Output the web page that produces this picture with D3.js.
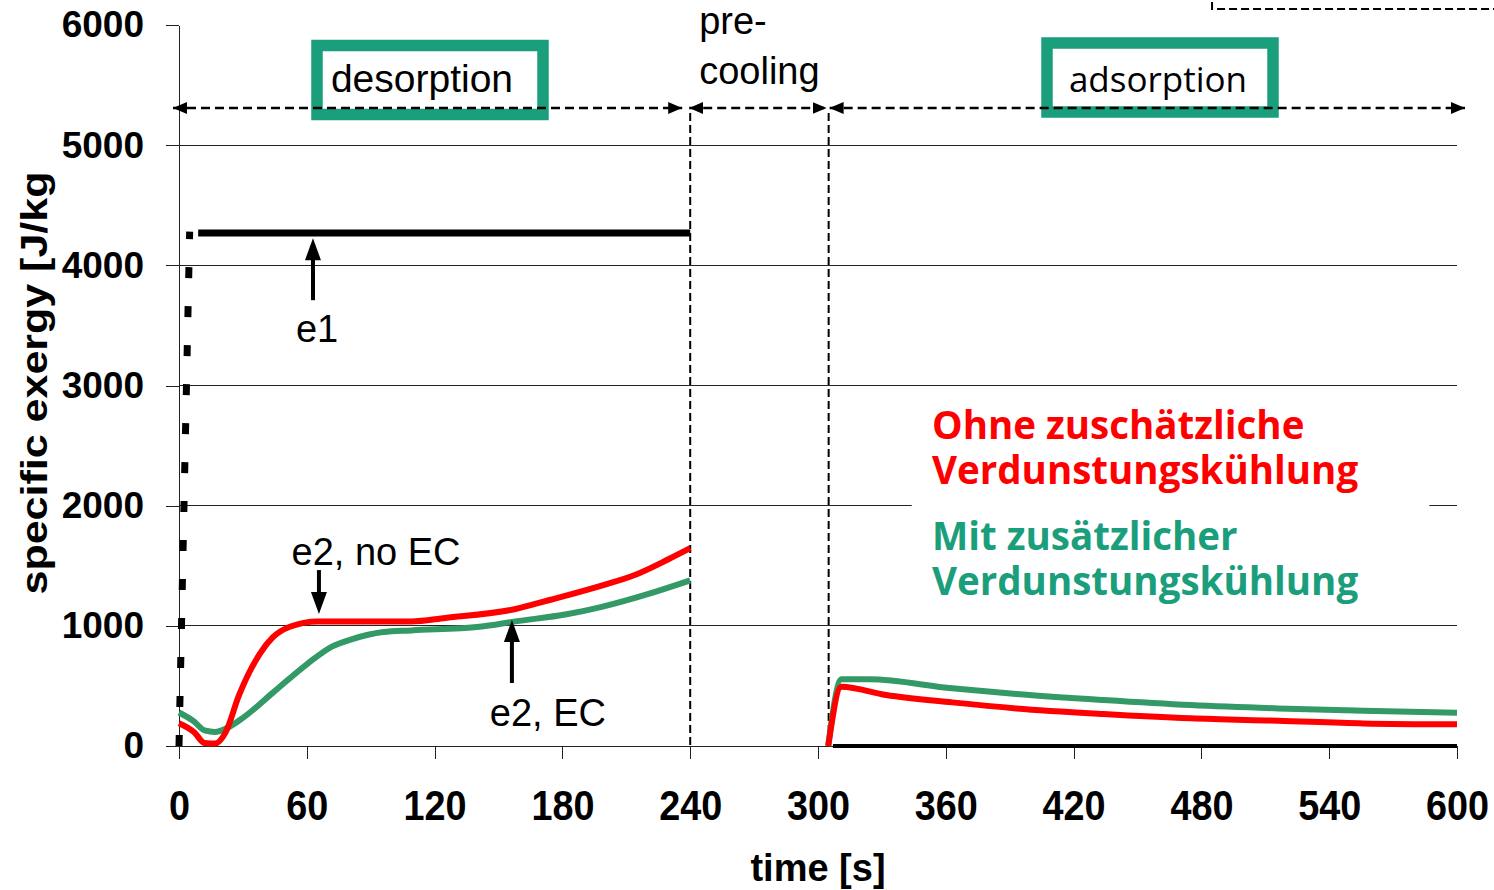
<!DOCTYPE html>
<html>
<head>
<meta charset="utf-8">
<script src="https://cdn.jsdelivr.net/npm/d3@7"></script>
<style>
  body { margin: 0; background: #fff; }
</style>
</head>
<body>
<div id="chart"></div>
<script>
// ---- data ----
const xTicks = [0, 60, 120, 180, 240, 300, 360, 420, 480, 540, 600];
const yTicks = [0, 1000, 2000, 3000, 4000, 5000, 6000];

// phase limits [s]
const phaseBounds = [0, 240, 305, 600];

// e2 without evaporative cooling (red), desorption
const tRedDes = [0, 7, 12, 17, 22, 28, 38, 44, 52, 65, 109, 125, 158, 174, 198, 214, 230, 240];
const e2NoEcDes = [190, 117, 25, 20, 117, 415, 769, 903, 992, 1037, 1037, 1066, 1140, 1215, 1333, 1423, 1556, 1646];

// e2 with evaporative cooling (green), desorption
const tGreenDes = [0, 7, 12, 17, 22, 30, 44, 60, 72, 81, 96, 109, 141, 158, 182, 198, 222, 240];
const e2EcDes = [279, 205, 130, 117, 145, 234, 442, 680, 829, 888, 948, 962, 992, 1037, 1096, 1156, 1274, 1378];

// adsorption
const tRedAds = [304.8, 311, 332, 363, 393, 434, 475, 516, 556, 600];
const e2NoEcAds = [0, 493, 424, 363, 313, 266, 230, 210, 188, 180];
const tGreenAds = [304.8, 311, 324, 363, 393, 434, 475, 516, 556, 600];
const e2EcAds = [0, 555, 555, 480, 433, 383, 341, 313, 294, 277];

// e1 (black)
const tE1Rise = [0, 5];
const e1Rise = [0, 4280];
const tE1Des = [9, 240];
const e1Des = [4270, 4270];
const tE1Ads = [307, 600];
const e1Ads = [0, 0];

// annotations: label, label position, arrow tail, arrow tip
const annLabels = ["e1", "e2, no EC", "e2, EC"];
const annLabelT = [64.8, 92.5, 173.2];
const annLabelV = [3361, 1506, 166];
const annArrowT = [62.9, 65.7, 156.3];
const annTailV = [3710, 1464, 524];
const annTipV = [4226, 1098, 1048];

const legendRed = ["Ohne zuschätzliche", "Verdunstungskühlung"];
const legendGreen = ["Mit zusätzlicher", "Verdunstungskühlung"];

// ---- drawing ----
const width = 1494, height = 890;
const red = "#ff0000", green = "#339966", teal = "#1a9e7c";

const svg = d3.select("#chart").append("svg")
  .attr("width", width).attr("height", height)
  .style("display", "block");
svg.append("rect").attr("width", width).attr("height", height).attr("fill", "#fff");

const x = d3.scaleLinear().domain([0, 600]).range([179, 1457]);
const y = d3.scaleLinear().domain([0, 6000]).range([746, 25]);

const defs = svg.append("defs");
defs.append("marker")
  .attr("id", "head-small")
  .attr("viewBox", "0 0 14 12")
  .attr("refX", 14).attr("refY", 6)
  .attr("markerWidth", 14).attr("markerHeight", 12)
  .attr("markerUnits", "userSpaceOnUse")
  .attr("orient", "auto-start-reverse")
  .append("path").attr("d", "M0,0L14,6L0,12Z").attr("fill", "#000");

// grid lines
svg.append("g")
  .selectAll("line")
  .data(yTicks.filter((d) => d > 0 && d < 6000))
  .join("line")
  .attr("x1", x(0)).attr("x2", x(600))
  .attr("y1", (d) => y(d)).attr("y2", (d) => y(d))
  .attr("stroke", "#222")
  .attr("shape-rendering", "crispEdges");

// white box behind the legend text
svg.append("rect")
  .attr("x", x(344)).attr("y", y(2920))
  .attr("width", x(587) - x(344)).attr("height", y(1130) - y(2920))
  .attr("fill", "#fff");

// axes
const yAxis = svg.append("g")
  .attr("transform", `translate(${x(0)},0)`)
  .call(d3.axisLeft(y).tickValues(yTicks).tickFormat(d3.format("d"))
    .tickSize(13).tickSizeOuter(0).tickPadding(22));
yAxis.selectAll("text")
  .attr("font-family", "'Liberation Sans', Arial, sans-serif")
  .attr("font-size", 37)
  .attr("font-weight", "bold")
  .attr("fill", "#000");

const xAxis = svg.append("g")
  .attr("transform", `translate(0,${y(0)})`)
  .call(d3.axisBottom(x).tickValues(xTicks).tickSize(13).tickSizeOuter(0).tickPadding(31));
xAxis.selectAll("text")
  .attr("font-family", "'Liberation Sans', Arial, sans-serif")
  .attr("font-size", 42)
  .attr("font-weight", "bold")
  .attr("fill", "#000")
  .attr("transform", "scale(0.9,1)");

svg.selectAll(".domain, .tick line")
  .attr("stroke", "#222")
  .attr("shape-rendering", "crispEdges");

// axis titles
svg.append("text")
  .attr("transform", `translate(47,383) rotate(-90) scale(1,0.85)`)
  .attr("text-anchor", "middle")
  .attr("font-family", "'Liberation Sans', Arial, sans-serif")
  .attr("font-size", 43)
  .attr("font-weight", "bold")
  .text("specific exergy [J/kg");

svg.append("text")
  .attr("x", 818).attr("y", 881)
  .attr("text-anchor", "middle")
  .attr("font-family", "'Liberation Sans', Arial, sans-serif")
  .attr("font-size", 38)
  .attr("font-weight", "bold")
  .text("time [s]");

// phase separators
svg.append("g")
  .selectAll("line")
  .data(phaseBounds.slice(1, 3))
  .join("line")
  .attr("x1", (d) => x(d)).attr("x2", (d) => x(d))
  .attr("y1", 113).attr("y2", y(0))
  .attr("stroke", "#000")
  .attr("stroke-width", 2)
  .attr("stroke-dasharray", "8,4");

// curves
const line = d3.line()
  .x((d) => x(d[0]))
  .y((d) => y(d[1]))
  .curve(d3.curveMonotoneX);

const series = [
  { t: tGreenDes, v: e2EcDes, color: green },
  { t: tRedDes, v: e2NoEcDes, color: red },
  { t: tGreenAds, v: e2EcAds, color: green },
  { t: tRedAds, v: e2NoEcAds, color: red },
  { t: tE1Des, v: e1Des, color: "#000", w: 7 },
  { t: tE1Ads, v: e1Ads, color: "#000", w: 4 },
];

svg.append("g")
  .attr("fill", "none")
  .selectAll("path")
  .data(series)
  .join("path")
  .attr("stroke", (d) => d.color)
  .attr("stroke-width", (d) => d.w || 6)
  .attr("stroke-linejoin", "round")
  .attr("d", (d) => line(d3.zip(d.t, d.v)));

svg.append("path")
  .attr("fill", "none")
  .attr("stroke", "#000")
  .attr("stroke-width", 7)
  .attr("stroke-dasharray", "11,28")
  .attr("d", d3.line().x((d) => x(d[0])).y((d) => y(d[1]))(d3.zip(tE1Rise, e1Rise)));

// annotation arrows and labels
const annIdx = annLabels.map((d, i) => i);
const annG = svg.append("g").selectAll("g").data(annIdx).join("g");
annG.append("line")
  .attr("x1", (i) => x(annArrowT[i])).attr("x2", (i) => x(annArrowT[i]))
  .attr("y1", (i) => y(annTailV[i]))
  .attr("y2", (i) => y(annTipV[i]) + (annTipV[i] > annTailV[i] ? 18 : -18))
  .attr("stroke", "#000")
  .attr("stroke-width", 4);
annG.append("path")
  .attr("d", (i) => {
    const px = x(annArrowT[i]), py = y(annTipV[i]);
    const dir = annTipV[i] > annTailV[i] ? 1 : -1;
    return `M${px},${py}L${px - 8},${py + dir * 22}L${px + 8},${py + dir * 22}Z`;
  })
  .attr("fill", "#000");

svg.append("g")
  .attr("font-family", "'Liberation Sans', Arial, sans-serif")
  .attr("font-size", 38)
  .attr("text-anchor", "middle")
  .selectAll("text")
  .data(annLabels)
  .join("text")
  .attr("x", (d, i) => x(annLabelT[i]))
  .attr("y", (d, i) => y(annLabelV[i]))
  .text((d) => d);

// phase boxes
const boxes = [
  { label: "desorption", cx: 430, cy: 80, dx: -8, font: "'Liberation Sans', Arial, sans-serif", size: 39 },
  { label: "adsorption", cx: 1160, cy: 77.5, dx: -2, font: "'Open Sans', sans-serif", size: 35 },
];
const boxG = svg.append("g").selectAll("g").data(boxes).join("g");
boxG.append("rect")
  .attr("x", (d) => d.cx - 113).attr("y", (d) => d.cy - 34.5)
  .attr("width", 226).attr("height", 69)
  .attr("fill", "#fff")
  .attr("stroke", teal)
  .attr("stroke-width", 11.5);
boxG.append("text")
  .attr("x", (d) => d.cx + d.dx)
  .attr("y", 92)
  .attr("text-anchor", "middle")
  .attr("font-family", (d) => d.font)
  .attr("font-size", (d) => d.size)
  .text((d) => d.label);

// pre-cooling label
const pre = svg.append("text")
  .attr("font-family", "'Liberation Sans', Arial, sans-serif")
  .attr("font-size", 38);
pre.selectAll("tspan")
  .data(["pre-", "cooling"])
  .join("tspan")
  .attr("x", x(phaseBounds[1]) + 9)
  .attr("y", (d, i) => 34 + i * 50)
  .text((d) => d);

// phase arrows
const arrowY = 108;
const phaseArrows = [
  [x(phaseBounds[0]) - 6, x(phaseBounds[1]) - 8],
  [x(phaseBounds[1]) - 1, x(phaseBounds[2]) - 2],
  [x(phaseBounds[2]) + 1, x(phaseBounds[3]) + 8],
];
svg.append("g")
  .selectAll("line")
  .data(phaseArrows)
  .join("line")
  .attr("x1", (d) => d[0]).attr("x2", (d) => d[1])
  .attr("y1", arrowY).attr("y2", arrowY)
  .attr("stroke", "#000")
  .attr("stroke-width", 2.5)
  .attr("stroke-dasharray", "9,5")
  .attr("marker-start", "url(#head-small)")
  .attr("marker-end", "url(#head-small)");

// fragment of a dashed frame at the top right
svg.append("path")
  .attr("d", `M${x(485)},2V9H${width}`)
  .attr("fill", "none")
  .attr("stroke", "#000")
  .attr("stroke-width", 2)
  .attr("stroke-dasharray", "8,4");

// legend text, one text block per series
const legend = [
  { lines: legendRed, color: red, y0: 439 },
  { lines: legendGreen, color: teal, y0: 550 },
];
svg.append("g")
  .attr("font-family", "'Open Sans', sans-serif")
  .attr("font-size", 38.5)
  .attr("font-weight", "bold")
  .selectAll("text")
  .data(legend)
  .join("text")
  .attr("fill", (d) => d.color)
  .selectAll("tspan")
  .data((d) => d.lines.map((s, i) => ({ s, yy: d.y0 + i * 44.5 })))
  .join("tspan")
  .attr("x", 932)
  .attr("y", (d) => d.yy)
  .text((d) => d.s);
</script>
</body>
</html>
